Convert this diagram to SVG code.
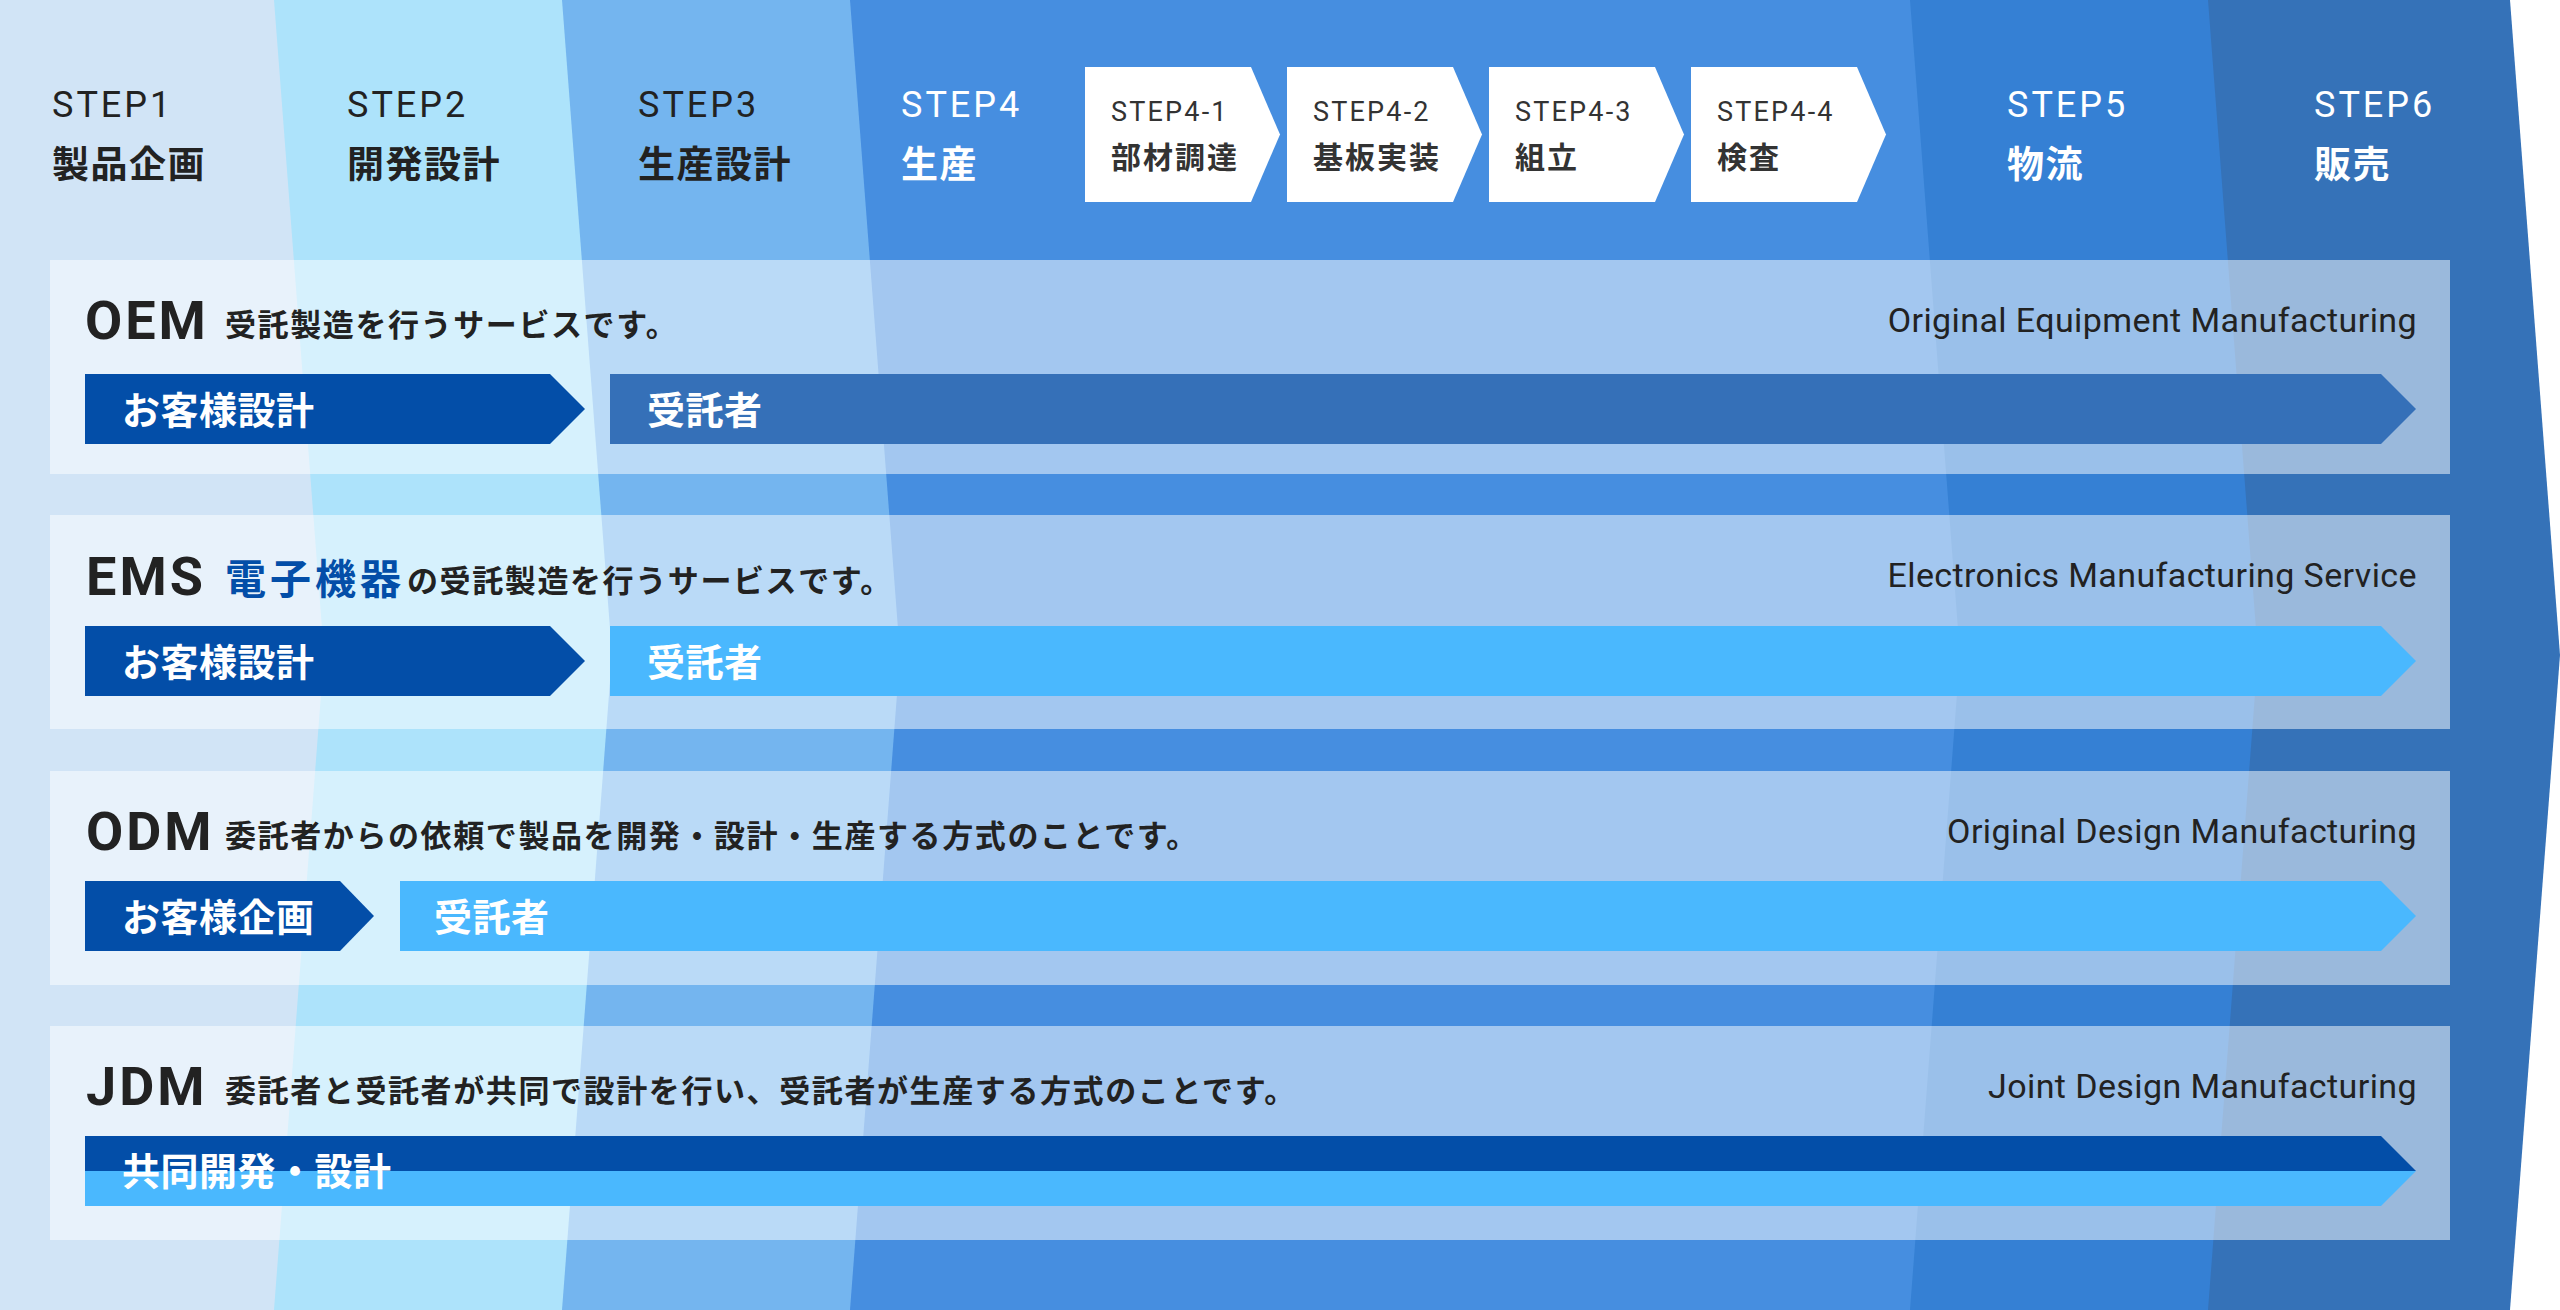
<svg xmlns="http://www.w3.org/2000/svg" width="2560" height="1310" viewBox="0 0 2560 1310">
<defs>
<style>
.lat{font-family:Roboto,'Liberation Sans',sans-serif}
.jp{font-family:'Noto Sans CJK JP','Noto Sans',sans-serif}
.step{font-size:36px;font-weight:400;letter-spacing:3px}
.stepname{font-size:37px;font-weight:700;letter-spacing:1.5px}
.dark{fill:#222222}
.white{fill:#ffffff}
.subbox{fill:#ffffff}
.subst{font-size:27px;font-weight:400;letter-spacing:2.2px;fill:#333333}
.subname{font-size:30px;font-weight:700;letter-spacing:2px;fill:#333333}
.panel{fill:#ffffff;fill-opacity:0.5}
.head{font-size:54px;font-weight:700;letter-spacing:3px;fill:#222222}
.desc{font-size:31px;font-weight:700;letter-spacing:1.6px;fill:#222222}
.en{font-size:34px;font-weight:400;letter-spacing:0.4px;fill:#222222;text-anchor:end}
.bar{font-size:38px;font-weight:700;letter-spacing:0.5px;fill:#ffffff}
.navy{fill:#034ea8}
.mid{fill:#3570b8}
.sky{fill:#4ab8fe}
</style>
</defs>
<rect x="0" y="0" width="2560" height="1310" fill="#ffffff"/>
<g id="background">
<polygon fill="#3572b8" points="0,0 2510,0 2560,655 2510,1310 0,1310"/>
<polygon fill="#3580d4" points="0,0 2208,0 2258,655 2208,1310 0,1310"/>
<polygon fill="#468ee0" points="0,0 1910,0 1960,655 1910,1310 0,1310"/>
<polygon fill="#74b5ef" points="0,0 850,0 900,655 850,1310 0,1310"/>
<polygon fill="#ade3fb" points="0,0 562,0 612,655 562,1310 0,1310"/>
<polygon fill="#d1e4f6" points="0,0 274,0 324,655 274,1310 0,1310"/>
</g>

<g id="step1">
<text class="lat step dark" x="52" y="117">STEP1</text>
<text class="jp stepname dark" x="52" y="178">製品企画</text>
</g>
<g id="step2">
<text class="lat step dark" x="347" y="117">STEP2</text>
<text class="jp stepname dark" x="347" y="178">開発設計</text>
</g>
<g id="step3">
<text class="lat step dark" x="638" y="117">STEP3</text>
<text class="jp stepname dark" x="638" y="178">生産設計</text>
</g>
<g id="step4">
<text class="lat step white" x="901" y="117">STEP4</text>
<text class="jp stepname white" x="901" y="178">生産</text>
</g>
<g id="step4-1">
<polygon class="subbox" points="1085,67 1251,67 1280,134.5 1251,202 1085,202"/>
<text class="lat subst" x="1111" y="121">STEP4-1</text>
<text class="jp subname" x="1111" y="168">部材調達</text>
</g>
<g id="step4-2">
<polygon class="subbox" points="1287,67 1453,67 1482,134.5 1453,202 1287,202"/>
<text class="lat subst" x="1313" y="121">STEP4-2</text>
<text class="jp subname" x="1313" y="168">基板実装</text>
</g>
<g id="step4-3">
<polygon class="subbox" points="1489,67 1655,67 1684,134.5 1655,202 1489,202"/>
<text class="lat subst" x="1515" y="121">STEP4-3</text>
<text class="jp subname" x="1515" y="168">組立</text>
</g>
<g id="step4-4">
<polygon class="subbox" points="1691,67 1857,67 1886,134.5 1857,202 1691,202"/>
<text class="lat subst" x="1717" y="121">STEP4-4</text>
<text class="jp subname" x="1717" y="168">検査</text>
</g>
<g id="step5">
<text class="lat step white" x="2007" y="117">STEP5</text>
<text class="jp stepname white" x="2007" y="178">物流</text>
</g>
<g id="step6">
<text class="lat step white" x="2314" y="117">STEP6</text>
<text class="jp stepname white" x="2314" y="178">販売</text>
</g>

<g id="row-oem">
<rect class="panel" x="50" y="260" width="2400" height="214"/>
<text class="lat head" x="85" y="339">OEM</text>
<text class="jp desc" x="225" y="336">受託製造を行うサービスです。</text>
<text class="lat en" x="2417" y="332">Original Equipment Manufacturing</text>
<polygon class="navy" points="85,374 550,374 585,409 550,444 85,444"/>
<text class="jp bar" x="122" y="424">お客様設計</text>
<polygon class="mid" points="610,374 2381,374 2416,409 2381,444 610,444"/>
<text class="jp bar" x="647" y="424">受託者</text>
</g>

<g id="row-ems">
<rect class="panel" x="50" y="515" width="2400" height="214"/>
<text class="lat head" x="86" y="595">EMS</text>
<text class="jp" x="225" y="594" font-size="41" font-weight="700" letter-spacing="4" fill="#034ea8">電子機器</text>
<text class="jp desc" x="407" y="592">の受託製造を行うサービスです。</text>
<text class="lat en" x="2417" y="587">Electronics Manufacturing Service</text>
<polygon class="navy" points="85,626 550,626 585,661 550,696 85,696"/>
<text class="jp bar" x="122" y="676">お客様設計</text>
<polygon class="sky" points="610,626 2381,626 2416,661 2381,696 610,696"/>
<text class="jp bar" x="647" y="676">受託者</text>
</g>

<g id="row-odm">
<rect class="panel" x="50" y="771" width="2400" height="214"/>
<text class="lat head" x="86" y="850">ODM</text>
<text class="jp desc" x="225" y="847" letter-spacing="1.2">委託者からの依頼で製品を開発・設計・生産する方式のことです。</text>
<text class="lat en" x="2417" y="843">Original Design Manufacturing</text>
<polygon class="navy" points="85,881 340,881 374,916 340,951 85,951"/>
<text class="jp bar" x="122" y="931">お客様企画</text>
<polygon class="sky" points="400,881 2381,881 2416,916 2381,951 400,951"/>
<text class="jp bar" x="434" y="931">受託者</text>
</g>

<g id="row-jdm">
<rect class="panel" x="50" y="1026" width="2400" height="214"/>
<text class="lat head" x="86" y="1105">JDM</text>
<text class="jp desc" x="225" y="1102">委託者と受託者が共同で設計を行い、受託者が生産する方式のことです。</text>
<text class="lat en" x="2417" y="1098">Joint Design Manufacturing</text>
<polygon class="navy" points="85,1136 2381,1136 2416,1171 85,1171"/>
<polygon class="sky" points="85,1171 2416,1171 2381,1206 85,1206"/>
<text class="jp bar" x="122" y="1185" letter-spacing="1.5">共同開発・設計</text>
</g>
</svg>
